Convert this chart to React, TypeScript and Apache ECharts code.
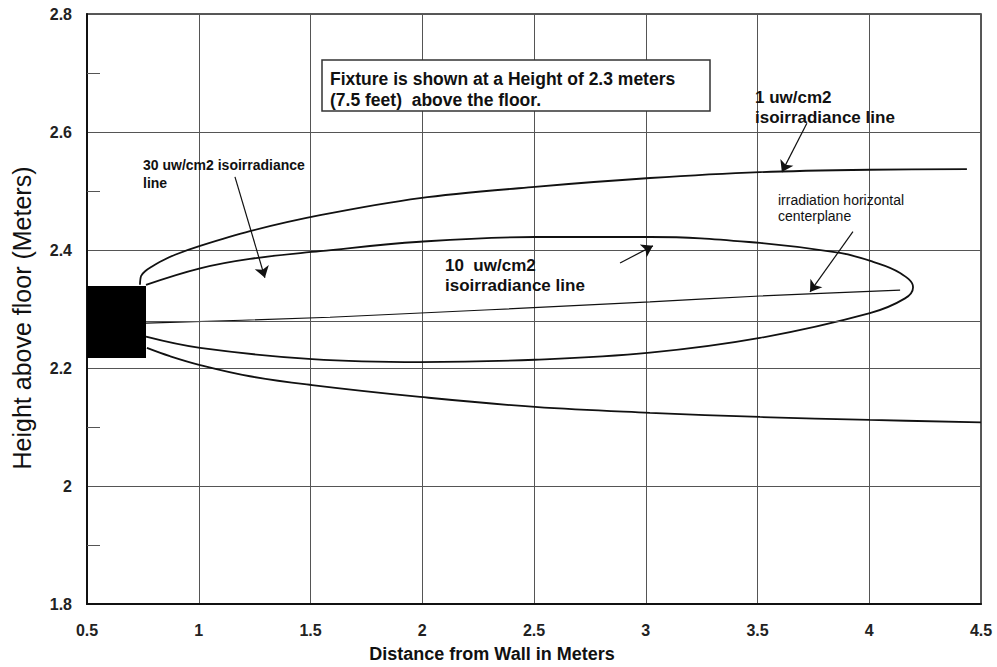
import React, { useEffect, useRef } from "react";
import * as echarts from "echarts";

// Axis ticks
const xTicks = { min: 0.5, max: 4.5, interval: 0.5 };
const yTicks = { min: 1.8, max: 2.8, interval: 0.2 };

// Fixture block [x0, y0, x1, y1]
const fixtureBox = [0.5, 2.217, 0.764, 2.339];
// Fixture center line height
const fixtureCenter = 2.278;

// 1 uw/cm2 isoirradiance line (upper and lower branches)
const outerUpper: number[][] = [
  [0.737, 2.341], [0.742, 2.356], [0.76, 2.364], [0.791, 2.372], [0.827, 2.38],
  [0.894, 2.392], [1.006, 2.407], [1.229, 2.432], [1.543, 2.459], [1.99, 2.488],
  [2.504, 2.507], [3.019, 2.522], [3.511, 2.532], [4.003, 2.536], [4.437, 2.537],
];
const outerLower: number[][] = [
  [0.768, 2.234], [0.871, 2.22], [1.006, 2.205], [1.229, 2.186], [1.507, 2.171],
  [1.99, 2.151], [2.504, 2.134], [3.019, 2.124], [3.511, 2.117], [4.003, 2.112],
  [4.5, 2.108],
];
// 10 uw/cm2 isoirradiance line (closed loop around the tip)
const innerLoop: number[][] = [
  [0.764, 2.341], [1.006, 2.369], [1.229, 2.385], [1.543, 2.398], [1.99, 2.414],
  [2.504, 2.422], [3.019, 2.422], [3.511, 2.412], [3.869, 2.395],
  [4.017, 2.38], [4.138, 2.361], [4.196, 2.337], [4.16, 2.318],
  [4.003, 2.293], [3.511, 2.251], [3.019, 2.226], [2.504, 2.214],
  [1.99, 2.21], [1.507, 2.215], [1.006, 2.234], [0.764, 2.253],
];
// irradiation horizontal centerplane
const centerplane: number[][] = [
  [0.764, 2.276], [1.587, 2.286], [3.019, 2.312], [3.511, 2.322], [4.138, 2.332],
];
// annotation arrows [from, to]
const arrows: number[][][] = [
  [[1.162, 2.524], [1.296, 2.353]],
  [[3.721, 2.615], [3.609, 2.532]],
  [[2.885, 2.378], [3.032, 2.407]],
  [[3.927, 2.431], [3.735, 2.329]],
];

const FONT = "'Liberation Sans', Arial, sans-serif";

export default function App() {
  const ref = useRef<HTMLDivElement>(null);
  useEffect(() => {
    if (!ref.current) return;
    const chart = echarts.init(ref.current, undefined, { renderer: "svg" });
    const curveStyle = { color: "#111", width: 1.8 };
    const txt = (x: number, y: number, text: string, size: number, weight: string, align = "left") => ({
      type: "text",
      x,
      y,
      z: 100,
      style: {
        text,
        fill: "#111",
        font: `${weight} ${size}px ${FONT}`,
        textAlign: align,
        textVerticalAlign: "middle",
      },
    });
    chart.setOption({
      animation: false,
      backgroundColor: "#fff",
      grid: {
        left: 87,
        top: 14,
        right: 16,
        bottom: 63,
        show: true,
        borderColor: "#222",
        borderWidth: 1.5,
      },
      xAxis: {
        type: "value",
        min: xTicks.min,
        max: xTicks.max,
        interval: xTicks.interval,
        axisLine: { show: true, lineStyle: { color: "#111", width: 2 } },
        axisTick: { show: false },
        axisLabel: {
          margin: 18,
          color: "#222",
          fontFamily: FONT,
          fontWeight: "bold",
          fontSize: 16,
          showMinLabel: true,
          showMaxLabel: true,
        },
        splitLine: { show: true, lineStyle: { color: "#555", width: 1 } },
      },
      yAxis: {
        type: "value",
        min: yTicks.min,
        max: yTicks.max,
        interval: yTicks.interval,
        axisLine: { show: true, lineStyle: { color: "#111", width: 2 } },
        axisTick: { show: false, inside: true },
        minorTick: { show: true, splitNumber: 2, length: 13, lineStyle: { color: "#555", width: 1 } },
        axisLabel: {
          margin: 15,
          color: "#222",
          fontFamily: FONT,
          fontWeight: "bold",
          fontSize: 16,
        },
        splitLine: { show: true, lineStyle: { color: "#555", width: 1 } },
      },
      series: [
        {
          type: "line",
          data: outerUpper,
          symbol: "none",
          smooth: 0.3,
          lineStyle: curveStyle,
          markLine: {
            silent: true,
            symbol: "none",
            label: { show: false },
            lineStyle: { color: "#555", width: 1, type: "solid" },
            data: [{ yAxis: fixtureCenter }],
          },
        },
        { type: "line", data: outerLower, symbol: "none", smooth: 0.4, lineStyle: curveStyle },
        { type: "line", data: innerLoop, symbol: "none", smooth: 0.4, lineStyle: curveStyle },
        { type: "line", data: centerplane, symbol: "none", smooth: 0.2, lineStyle: { color: "#111", width: 1.2 } },
        {
          type: "lines",
          coordinateSystem: "cartesian2d",
          symbol: ["none", "arrow"],
          symbolSize: 11,
          lineStyle: { color: "#111", width: 1.2, opacity: 1 },
          data: arrows.map((a) => ({ coords: a })),
          z: 5,
        },
        {
          type: "custom",
          z: 6,
          renderItem: (params: any, api: any) => {
            const p0 = api.coord([api.value(0), api.value(3)]);
            const p1 = api.coord([api.value(2), api.value(1)]);
            return {
              type: "rect",
              shape: { x: p0[0], y: p0[1], width: p1[0] - p0[0], height: p1[1] - p0[1] },
              style: { fill: "#000" },
            };
          },
          data: [fixtureBox],
        },
      ],
      graphic: [
        {
          type: "rect",
          z: 99,
          shape: { x: 322, y: 60, width: 388, height: 51 },
          style: { fill: "#fff", stroke: "#333", lineWidth: 1.5 },
        },
        txt(330, 79, "Fixture is shown at a Height of 2.3 meters", 17.5, "bold"),
        txt(330, 100, "(7.5 feet)  above the floor.", 17.5, "bold"),
        txt(755, 97, "1 uw/cm2", 17, "bold"),
        txt(755, 117, "isoirradiance line", 17, "bold"),
        txt(445, 265, "10  uw/cm2", 17, "bold"),
        txt(445, 285, "isoirradiance line", 17, "bold"),
        txt(143, 165, "30 uw/cm2 isoirradiance", 14, "bold"),
        txt(143, 183, "line", 14, "bold"),
        txt(778, 200, "irradiation horizontal", 14, "normal"),
        txt(778, 216, "centerplane", 14, "normal"),
        {
          type: "text",
          x: 492,
          y: 654,
          style: {
            text: "Distance from Wall in Meters",
            fill: "#111",
            font: `bold 18px ${FONT}`,
            textAlign: "center",
            textVerticalAlign: "middle",
          },
        },
        {
          type: "text",
          x: 22,
          y: 318,
          rotation: Math.PI / 2,
          style: {
            text: "Height above floor (Meters)",
            fill: "#111",
            font: `normal 25px ${FONT}`,
            textAlign: "center",
            textVerticalAlign: "middle",
          },
        },
      ],
    });
    return () => chart.dispose();
  }, []);
  return <div ref={ref} style={{ width: 997, height: 667, position: "absolute", left: 0, top: 0 }} />;
}
